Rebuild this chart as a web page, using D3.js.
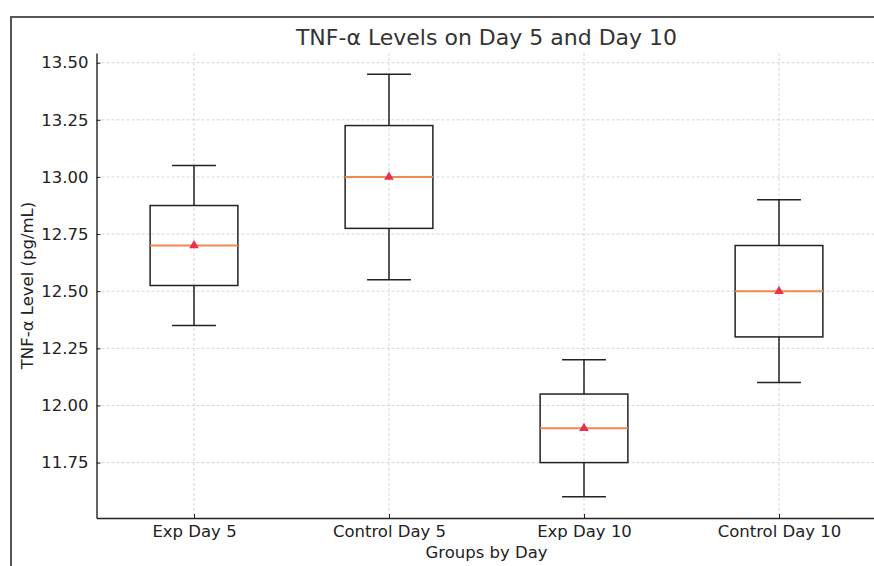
<!DOCTYPE html>
<html>
<head>
<meta charset="utf-8">
<script src="https://cdn.jsdelivr.net/npm/d3@7"></script>
<style>
  body { margin: 0; background: #fff; }
  svg { display: block; font-family: "DejaVu Sans", sans-serif; }
</style>
</head>
<body>
<script>
// box plot stats
let groups = ["Exp Day 5", "Control Day 5", "Exp Day 10", "Control Day 10"];
let whiskerLow = [12.35, 12.55, 11.60, 12.10];
let q1 = [12.525, 12.775, 11.75, 12.30];
let median = [12.70, 13.00, 11.90, 12.50];
let q3 = [12.875, 13.225, 12.05, 12.70];
let whiskerHigh = [13.05, 13.45, 12.20, 12.90];
let means = [12.70, 13.00, 11.90, 12.50];
let yTicks = [11.75, 12.00, 12.25, 12.50, 12.75, 13.00, 13.25, 13.50];

let width = 874;
let height = 566;
let plotL = 96.5, plotR = 876.5, plotT = 53, plotB = 518;

let svg = d3.select("body").append("svg")
    .attr("width", width)
    .attr("height", height);

// figure frame (cropped on the right and bottom)
svg.append("path")
    .attr("d", `M11,${height + 5} L11,17 L${width + 5},17`)
    .attr("fill", "none")
    .attr("stroke", "#555")
    .attr("stroke-width", 2);

let data = groups.map((g, i) => ({
    name: g, lo: whiskerLow[i], q1: q1[i], med: median[i],
    q3: q3[i], hi: whiskerHigh[i], mean: means[i]
}));

let x = d3.scalePoint()
    .domain(groups)
    .range([plotL, plotR])
    .padding(0.5);
let step = x.step();

let dMin = d3.min(whiskerLow), dMax = d3.max(whiskerHigh);
let pad = (dMax - dMin) * 0.05;
let y = d3.scaleLinear()
    .domain([dMin - pad, dMax + pad])
    .range([plotB, plotT]);

// grid
let grid = svg.append("g");
grid.selectAll(".hg").data(yTicks).enter().append("line")
    .attr("x1", plotL).attr("x2", plotR)
    .attr("y1", d => y(d)).attr("y2", d => y(d))
    .attr("stroke", "#ccc").attr("stroke-width", 0.8)
    .attr("stroke-dasharray", "3,2");
grid.selectAll(".vg").data(groups).enter().append("line")
    .attr("x1", d => x(d)).attr("x2", d => x(d))
    .attr("y1", plotT).attr("y2", plotB)
    .attr("stroke", "#ccc").attr("stroke-width", 0.8)
    .attr("stroke-dasharray", "3,2");

// axes
let yAxis = d3.axisLeft(y)
    .tickValues(yTicks)
    .tickFormat(d3.format(".2f"))
    .tickSizeInner(-4)
    .tickSizeOuter(0)
    .tickPadding(8);
let yg = svg.append("g")
    .attr("transform", `translate(${plotL},0)`)
    .call(yAxis);

let xAxis = d3.axisBottom(x)
    .tickSizeInner(-4)
    .tickSizeOuter(0)
    .tickPadding(7);
let xg = svg.append("g")
    .attr("transform", `translate(0,${plotB})`)
    .call(xAxis);

[yg, xg].forEach(g => {
    g.selectAll("text").attr("font-size", 16.5).attr("fill", "#222")
        .attr("font-family", "DejaVu Sans, sans-serif");
    g.selectAll("line").attr("stroke", "#222");
    g.select(".domain").attr("stroke", "#222").attr("stroke-width", 1.4);
});

// boxes
let boxW = step * 0.45;
let capW = boxW / 2;
let box = svg.append("g").selectAll("g").data(data).enter().append("g");

box.append("line")
    .attr("x1", d => x(d.name)).attr("x2", d => x(d.name))
    .attr("y1", d => y(d.lo)).attr("y2", d => y(d.q1))
    .attr("stroke", "#222").attr("stroke-width", 1.5);
box.append("line")
    .attr("x1", d => x(d.name)).attr("x2", d => x(d.name))
    .attr("y1", d => y(d.q3)).attr("y2", d => y(d.hi))
    .attr("stroke", "#222").attr("stroke-width", 1.5);
box.append("line")
    .attr("x1", d => x(d.name) - capW / 2).attr("x2", d => x(d.name) + capW / 2)
    .attr("y1", d => y(d.lo)).attr("y2", d => y(d.lo))
    .attr("stroke", "#222").attr("stroke-width", 1.5);
box.append("line")
    .attr("x1", d => x(d.name) - capW / 2).attr("x2", d => x(d.name) + capW / 2)
    .attr("y1", d => y(d.hi)).attr("y2", d => y(d.hi))
    .attr("stroke", "#222").attr("stroke-width", 1.5);
box.append("rect")
    .attr("x", d => x(d.name) - boxW / 2)
    .attr("y", d => y(d.q3))
    .attr("width", boxW)
    .attr("height", d => y(d.q1) - y(d.q3))
    .attr("fill", "none")
    .attr("stroke", "#222").attr("stroke-width", 1.5);
box.append("line")
    .attr("x1", d => x(d.name) - boxW / 2).attr("x2", d => x(d.name) + boxW / 2)
    .attr("y1", d => y(d.med)).attr("y2", d => y(d.med))
    .attr("stroke", "#f4874b").attr("stroke-width", 2);
box.append("path")
    .attr("d", d3.symbol().type(d3.symbolTriangle).size(40))
    .attr("transform", d => `translate(${x(d.name)},${y(d.mean)})`)
    .attr("fill", "#e8304f");

// labels
svg.append("text")
    .attr("x", (plotL + plotR) / 2).attr("y", 45)
    .attr("text-anchor", "middle")
    .attr("font-size", 22).attr("fill", "#333")
    .text("TNF-α Levels on Day 5 and Day 10");

svg.append("text")
    .attr("x", (plotL + plotR) / 2).attr("y", 558)
    .attr("text-anchor", "middle")
    .attr("font-size", 16.5).attr("fill", "#222")
    .text("Groups by Day");

svg.append("text")
    .attr("transform", `translate(33,${(plotT + plotB) / 2}) rotate(-90)`)
    .attr("text-anchor", "middle")
    .attr("font-size", 16.5).attr("fill", "#222")
    .text("TNF-α Level (pg/mL)");
</script>
</body>
</html>
